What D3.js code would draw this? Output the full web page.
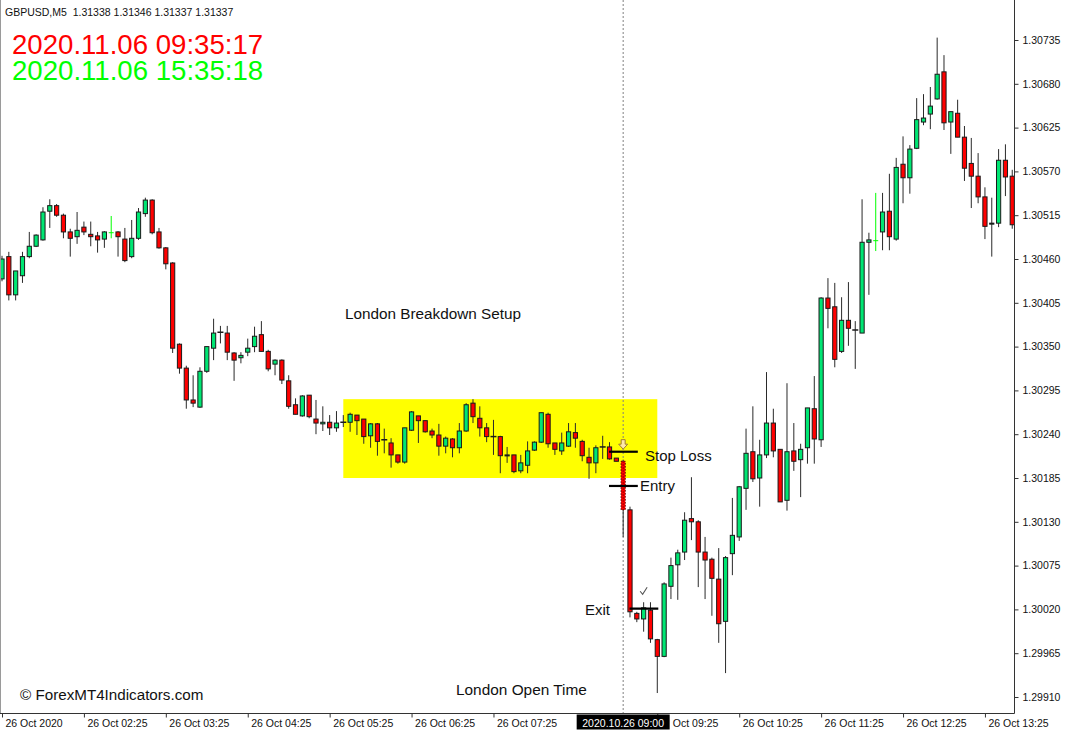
<!DOCTYPE html>
<html>
<head>
<meta charset="utf-8">
<script src="https://cdn.jsdelivr.net/npm/d3@7"></script>
<style>
  html, body { margin: 0; padding: 0; background: #fff; }
  svg { display: block; }
</style>
</head>
<body>
<svg id="chart" width="1068" height="735"></svg>
<script>
// GBPUSD M5, 26 Oct 2020 — one entry per bar (bar 0 = 00:00)
const opens = [
  1.30435,1.30463,1.30415,1.30439,1.30463,1.30476,1.30484,1.30520,1.30527,1.30515,
  1.30494,1.30488,1.30500,1.30491,1.30489,1.30485,1.30493,1.30494,1.30485,1.30463,
  1.30486,1.30517,1.30534,1.30494,1.30474,1.30455,1.30353,1.30323,1.30283,1.30274,
  1.30319,1.30348,1.30368,1.30367,1.30342,1.30336,1.30343,1.30350,1.30365,1.30344,
  1.30328,1.30333,1.30307,1.30277,1.30263,1.30289,1.30259,1.30253,1.30255,1.30248,
  1.30255,1.30255,1.30264,1.30259,1.30238,1.30253,1.30233,1.30229,1.30214,1.30205,
  1.30245,1.30263,1.30257,1.30244,1.30239,1.30225,1.30234,1.30223,1.30244,1.30279,
  1.30260,1.30248,1.30237,1.30237,1.30213,1.30214,1.30194,1.30201,1.30220,1.30230,
  1.30265,1.30229,1.30219,1.30225,1.30242,1.30231,1.30211,1.30204,1.30224,1.30224,
  1.30210,1.30206,1.30145,1.30015,1.30008,1.30019,1.29982,1.29961,1.30049,1.30076,
  1.30092,1.30134,1.30130,1.30092,1.30083,1.30058,1.30005,1.30090,1.30111,1.30172,
  1.30218,1.30185,1.30214,1.30254,1.30221,1.30157,1.30219,1.30208,1.30223,1.30272,
  1.30233,1.30411,1.30400,1.30344,1.30383,1.30371,1.30367,1.30481,1.30483,1.30494,
  1.30520,1.30485,1.30579,1.30562,1.30599,1.30632,1.30642,1.30661,1.30695,1.30632,
  1.30643,1.30613,1.30580,1.30564,1.30538,1.30504,1.30505,1.30584,1.30564
];
const highs = [
  1.30464,1.30469,1.30445,1.30469,1.30494,1.30491,1.30525,1.30535,1.30529,1.30517,
  1.30498,1.30519,1.30507,1.30507,1.30494,1.30495,1.30514,1.30495,1.30499,1.30509,
  1.30524,1.30537,1.30535,1.30499,1.30475,1.30456,1.30354,1.30326,1.30314,1.30324,
  1.30350,1.30385,1.30376,1.30376,1.30343,1.30343,1.30360,1.30375,1.30382,1.30346,
  1.30334,1.30334,1.30314,1.30285,1.30289,1.30289,1.30283,1.30275,1.30264,1.30269,
  1.30264,1.30267,1.30264,1.30259,1.30254,1.30254,1.30247,1.30235,1.30214,1.30248,
  1.30269,1.30263,1.30257,1.30247,1.30253,1.30237,1.30235,1.30254,1.30279,1.30284,
  1.30275,1.30254,1.30258,1.30238,1.30224,1.30214,1.30214,1.30231,1.30231,1.30267,
  1.30267,1.30229,1.30242,1.30254,1.30254,1.30233,1.30223,1.30226,1.30238,1.30230,
  1.30210,1.30208,1.30149,1.30017,1.30029,1.30029,1.29983,1.30054,1.30085,1.30095,
  1.30142,1.30186,1.30132,1.30111,1.30085,1.30097,1.30087,1.30160,1.30175,1.30247,
  1.30275,1.30233,1.30318,1.30272,1.30221,1.30304,1.30254,1.30228,1.30273,1.30313,
  1.30412,1.30436,1.30430,1.30412,1.30431,1.30382,1.30535,1.30493,1.30543,1.30543,
  1.30567,1.30587,1.30614,1.30603,1.30662,1.30667,1.30676,1.30738,1.30716,1.30645,
  1.30660,1.30627,1.30612,1.30593,1.30550,1.30537,1.30598,1.30604,1.30572
];
const lows = [
  1.30432,1.30408,1.30408,1.30430,1.30461,1.30475,1.30483,1.30499,1.30513,1.30486,
  1.30463,1.30479,1.30490,1.30476,1.30468,1.30474,1.30486,1.30463,1.30456,1.30461,
  1.30484,1.30513,1.30491,1.30473,1.30447,1.30342,1.30316,1.30272,1.30274,1.30273,
  1.30317,1.30333,1.30354,1.30333,1.30307,1.30329,1.30338,1.30343,1.30344,1.30319,
  1.30314,1.30303,1.30272,1.30265,1.30262,1.30260,1.30240,1.30244,1.30239,1.30243,
  1.30249,1.30243,1.30239,1.30228,1.30223,1.30213,1.30216,1.30198,1.30203,1.30203,
  1.30244,1.30229,1.30242,1.30235,1.30213,1.30216,1.30211,1.30216,1.30243,1.30254,
  1.30237,1.30230,1.30214,1.30191,1.30204,1.30191,1.30191,1.30191,1.30219,1.30229,
  1.30223,1.30214,1.30214,1.30224,1.30223,1.30206,1.30184,1.30191,1.30209,1.30208,
  1.30206,1.30111,1.30010,1.30004,1.29992,1.29978,1.29915,1.29960,1.30033,1.30032,
  1.30082,1.30107,1.30048,1.30033,1.30012,1.29978,1.29940,1.30063,1.30106,1.30145,
  1.30180,1.30149,1.30210,1.30211,1.30155,1.30144,1.30194,1.30161,1.30203,1.30203,
  1.30224,1.30373,1.30324,1.30342,1.30351,1.30322,1.30367,1.30415,1.30470,1.30471,
  1.30471,1.30483,1.30530,1.30542,1.30598,1.30628,1.30623,1.30660,1.30622,1.30592,
  1.30613,1.30558,1.30524,1.30530,1.30485,1.30463,1.30500,1.30539,1.30498
];
const closes = [
  1.30460,1.30415,1.30445,1.30463,1.30476,1.30490,1.30519,1.30527,1.30515,1.30494,
  1.30486,1.30496,1.30494,1.30488,1.30484,1.30494,1.30493,1.30488,1.30458,1.30486,
  1.30519,1.30534,1.30493,1.30474,1.30454,1.30348,1.30323,1.30283,1.30279,1.30319,
  1.30350,1.30367,1.30368,1.30343,1.30333,1.30339,1.30348,1.30363,1.30344,1.30322,
  1.30333,1.30308,1.30275,1.30265,1.30288,1.30262,1.30254,1.30255,1.30248,1.30254,
  1.30255,1.30265,1.30257,1.30237,1.30253,1.30231,1.30233,1.30214,1.30205,1.30248,
  1.30268,1.30257,1.30243,1.30239,1.30225,1.30235,1.30223,1.30244,1.30277,1.30262,
  1.30248,1.30237,1.30237,1.30213,1.30214,1.30193,1.30204,1.30219,1.30230,1.30267,
  1.30228,1.30221,1.30229,1.30243,1.30235,1.30213,1.30204,1.30223,1.30224,1.30209,
  1.30206,1.30145,1.30017,1.30008,1.30022,1.29983,1.29961,1.30052,1.30075,1.30091,
  1.30132,1.30130,1.30092,1.30082,1.30059,1.30002,1.30085,1.30113,1.30174,1.30216,
  1.30184,1.30214,1.30254,1.30219,1.30155,1.30218,1.30206,1.30221,1.30273,1.30234,
  1.30411,1.30398,1.30334,1.30383,1.30373,1.30371,1.30481,1.30484,1.30483,1.30519,
  1.30488,1.30575,1.30562,1.30598,1.30635,1.30637,1.30652,1.30692,1.30631,1.30645,
  1.30613,1.30574,1.30564,1.30538,1.30501,1.30505,1.30584,1.30563,1.30503
];

// bars drawn in lime (signal bars)
const limeBars = [16, 128];
// the London open bar (09:00), drawn with a dotted body
const londonOpenBar = 91;

// time axis labels (bar index, text); the 08:25 label sits under the cursor box
const timeLabelBars = [0, 12, 24, 36, 48, 60, 72, 96, 108, 120, 132, 144];
const timeLabels = [
  "26 Oct 2020", "26 Oct 02:25", "26 Oct 03:25", "26 Oct 04:25", "26 Oct 05:25",
  "26 Oct 06:25", "26 Oct 07:25", "Oct 09:25", "26 Oct 10:25",
  "26 Oct 11:25", "26 Oct 12:25", "26 Oct 13:25"
];

// price axis labels
const priceTicks = [
  1.29910, 1.29965, 1.30020, 1.30075, 1.30130, 1.30185, 1.30240, 1.30295,
  1.30350, 1.30405, 1.30460, 1.30515, 1.30570, 1.30625, 1.30680, 1.30735
];

// pre-London range box (bar indices and prices)
const rangeBars = [50, 96];
const rangePrices = [1.30185, 1.30284];

// trade levels
const stopLossPrice = 1.30218;
const entryPrice = 1.30175;
const exitPrice = 1.30021;
const stopLossBars = [89, 93];
const entryBars = [89, 93];
const exitBars = [92, 96];

const symbolLine = "GBPUSD,M5  1.31338 1.31346 1.31337 1.31337";
const brokerTime = "2020.11.06 09:35:17";
const localTime = "2020.11.06 15:35:18";
const cursorTime = "2020.10.26 09:00";

// ---------------------------------------------------------------
const svg = d3.select("#chart");
const plotRight = 1014.5, plotBottom = 713.5;
const FONT = "'Liberation Sans', Arial, sans-serif";

const x = d3.scaleLinear().domain([0, 148]).range([2, 2 + 148 * 6.826]);
const y = d3.scaleLinear().domain([1.29910, 1.30735]).range([697, 40]);

svg.append("defs").append("clipPath").attr("id", "plot")
  .append("rect").attr("x", 0).attr("y", 0).attr("width", plotRight).attr("height", plotBottom);

const plot = svg.append("g").attr("clip-path", "url(#plot)");

// range box
plot.append("rect")
  .attr("x", x(rangeBars[0]))
  .attr("y", y(rangePrices[1]))
  .attr("width", x(rangeBars[1]) - x(rangeBars[0]))
  .attr("height", y(rangePrices[0]) - y(rangePrices[1]))
  .attr("fill", "#ffff00");

// vertical cursor line at the London open bar
plot.append("line")
  .attr("x1", x(londonOpenBar)).attr("x2", x(londonOpenBar))
  .attr("y1", 0).attr("y2", plotBottom)
  .attr("stroke", "#808080").attr("stroke-width", 1)
  .attr("stroke-dasharray", "2,2");

// candles
const bars = d3.range(opens.length).map(i => ({
  i, o: opens[i], h: highs[i], l: lows[i], c: closes[i]
}));
const BODY = 4.2;
const candle = plot.append("g").selectAll("g").data(bars).join("g");

candle.append("line")
  .attr("x1", d => x(d.i)).attr("x2", d => x(d.i))
  .attr("y1", d => y(d.h)).attr("y2", d => y(d.l))
  .attr("stroke", d => limeBars.includes(d.i) ? "#00ff00" : "#2a2a2a")
  .attr("stroke-width", 1);

candle.each(function (d) {
  const g = d3.select(this);
  const cx = x(d.i);
  if (limeBars.includes(d.i)) {
    g.append("line")
      .attr("x1", cx - 2.5).attr("x2", cx + 2.5)
      .attr("y1", y(d.c)).attr("y2", y(d.c))
      .attr("stroke", "#00ff00").attr("stroke-width", 1);
    return;
  }
  if (d.o === d.c) {
    g.append("line")
      .attr("x1", cx - 3).attr("x2", cx + 3)
      .attr("y1", y(d.c)).attr("y2", y(d.c))
      .attr("stroke", "#1a1a1a").attr("stroke-width", 1.5);
    return;
  }
  const top = y(Math.max(d.o, d.c)), bot = y(Math.min(d.o, d.c));
  const up = d.c > d.o;
  const r = g.append("rect")
    .attr("x", cx - BODY / 2)
    .attr("y", top)
    .attr("width", BODY)
    .attr("height", Math.max(bot - top, 1))
    .attr("fill", up ? "#00e673" : "#ff0000")
    .attr("stroke", "#1a1a1a").attr("stroke-width", 1);
  if (d.i === londonOpenBar) {
    r.attr("stroke", "#5a0000").attr("stroke-dasharray", "1.5,1.5");
    g.append("line")
      .attr("x1", cx).attr("x2", cx)
      .attr("y1", top).attr("y2", bot)
      .attr("stroke", "#7a0000").attr("stroke-width", 1)
      .attr("stroke-dasharray", "1.5,1.5");
  }
});

// sell arrow above the London open bar
const ax = x(londonOpenBar), ay = y(highs[londonOpenBar]) - 20;
plot.append("path")
  .attr("d", `M${ax - 2},${ay} h4 v4.5 h2.5 l-4.5,5 l-4.5,-5 h2.5 z`)
  .attr("fill", "#fde9a8").attr("stroke", "#a07a30").attr("stroke-width", 1);

// trade level lines
function levelLine(bars2, price) {
  plot.append("line")
    .attr("x1", x(bars2[0]) - 0.5).attr("x2", x(bars2[1]) + 1)
    .attr("y1", y(price)).attr("y2", y(price))
    .attr("stroke", "#000").attr("stroke-width", 2.2);
}
levelLine(stopLossBars, stopLossPrice);
levelLine(entryBars, entryPrice);
levelLine(exitBars, exitPrice);

// check mark above the exit
const kx = x(94), ky = y(highs[94]) - 12;
plot.append("path")
  .attr("d", `M${kx - 3.5},${ky + 1} L${kx - 1},${ky + 4} L${kx + 3.5},${ky - 3}`)
  .attr("fill", "none").attr("stroke", "#555").attr("stroke-width", 1.1);

// annotations
const notes = [
  { t: "London Breakdown Setup", x: 345, y: 318.5, s: 15.3 },
  { t: "Stop Loss", x: 645, y: y(stopLossPrice) + 9, s: 15 },
  { t: "Entry", x: 640, y: y(entryPrice) + 5, s: 15 },
  { t: "Exit", x: 585, y: y(exitPrice) + 6, s: 15 },
  { t: "London Open Time", x: 456, y: 695, s: 15.4 },
  { t: "\u00A9 ForexMT4Indicators.com", x: 20, y: 700, s: 15.2 }
];
svg.append("g").selectAll("text").data(notes).join("text")
  .attr("x", d => d.x).attr("y", d => d.y)
  .attr("font-family", FONT).attr("font-size", d => d.s)
  .attr("fill", "#111").text(d => d.t);

// header
svg.append("text").attr("x", 5).attr("y", 15.5)
  .attr("font-family", FONT).attr("font-size", 10.5).attr("fill", "#111")
  .attr("xml:space", "preserve").style("white-space", "pre")
  .text(symbolLine);
svg.append("text").attr("x", 12).attr("y", 53.5)
  .attr("font-family", FONT).attr("font-size", 27.6).attr("fill", "#ff0000")
  .text(brokerTime);
svg.append("text").attr("x", 12).attr("y", 79.5)
  .attr("font-family", FONT).attr("font-size", 27.6).attr("fill", "#00ff00")
  .text(localTime);

// frame
svg.append("line").attr("x1", 0.5).attr("x2", 0.5).attr("y1", 0).attr("y2", plotBottom)
  .attr("stroke", "#9a9a9a");

// price axis
const yAxis = d3.axisRight(y).tickValues(priceTicks)
  .tickFormat(d3.format(".5f")).tickSize(4).tickPadding(4);
const gy = svg.append("g").attr("transform", `translate(${plotRight},0)`).call(yAxis);
gy.select(".domain").remove();
gy.selectAll(".tick line").attr("stroke", "#333");
gy.selectAll(".tick text").attr("font-family", FONT).attr("font-size", 10.5).attr("fill", "#111");
svg.append("line").attr("x1", plotRight).attr("x2", plotRight).attr("y1", 0).attr("y2", plotBottom)
  .attr("stroke", "#333");

// time axis
const xAxis = d3.axisBottom(x).tickValues(timeLabelBars)
  .tickFormat((d, i) => timeLabels[i]).tickSize(4);
const gx = svg.append("g").attr("transform", `translate(0,${plotBottom})`).call(xAxis);
gx.select(".domain").remove();
gx.selectAll(".tick line").attr("stroke", "#333");
gx.selectAll(".tick text")
  .attr("text-anchor", "start")
  .attr("x", (d, i) => timeLabels[i].startsWith("26") ? 3 : 15)
  .attr("y", 13.5).attr("dy", 0)
  .attr("font-family", FONT).attr("font-size", 10.5).attr("fill", "#111");
svg.append("line").attr("x1", 0).attr("x2", plotRight).attr("y1", plotBottom).attr("y2", plotBottom)
  .attr("stroke", "#333");

// cursor time box
const cx0 = x(londonOpenBar);
svg.append("rect").attr("x", cx0 - 46.5).attr("y", 714.5).attr("width", 93).attr("height", 15)
  .attr("fill", "#000");
svg.append("text").attr("x", cx0).attr("y", 726.5).attr("text-anchor", "middle")
  .attr("font-family", FONT).attr("font-size", 10.5).attr("fill", "#fff")
  .text(cursorTime);
</script>
</body>
</html>
